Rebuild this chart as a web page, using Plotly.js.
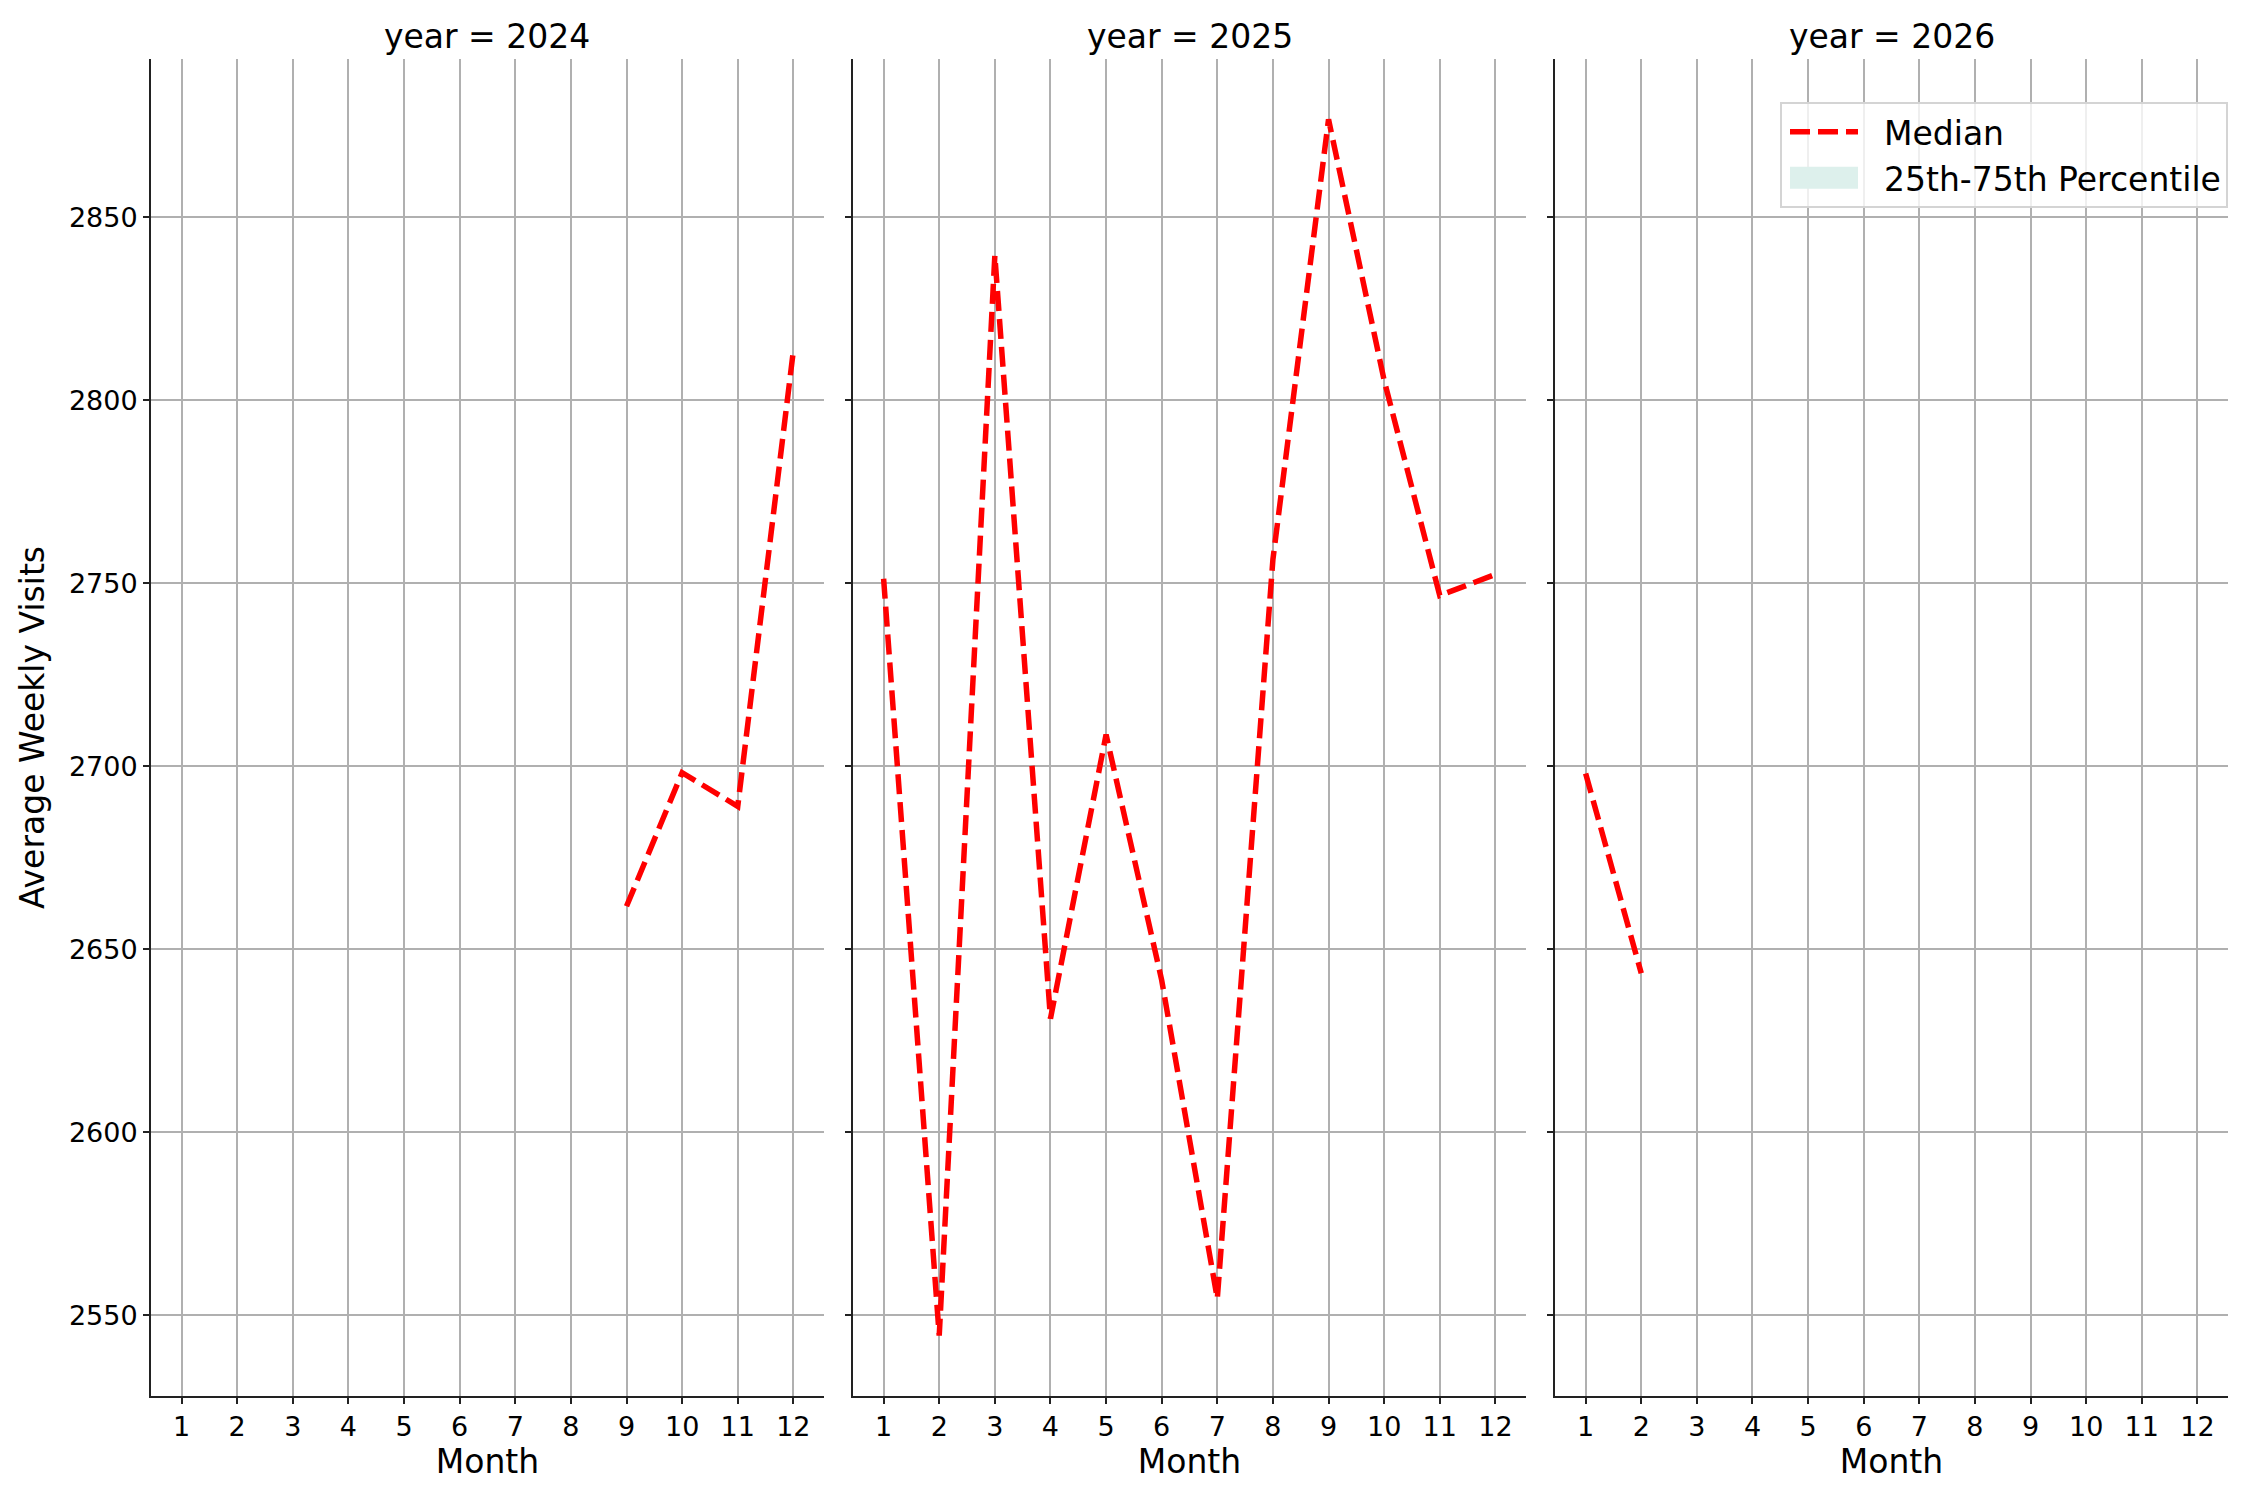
<!DOCTYPE html>
<html>
<head>
<meta charset="utf-8">
<script src="https://cdn.plot.ly/plotly-3.0.1.min.js"></script>
<style>
  html, body { margin: 0; padding: 0; background: #fff; }
  #chart { width: 2250px; height: 1500px; }
</style>
</head>
<body>
<div id="chart"></div>
<script>
// values, one panel per year
const years = [2024, 2025, 2026];
const monthTicks = [1, 2, 3, 4, 5, 6, 7, 8, 9, 10, 11, 12];

const months2024 = [9, 10, 11, 12];
const median2024 = [2661.7, 2698.2, 2689.0, 2813.5];
const p25_2024 = [2661.7, 2698.2, 2689.0, 2813.5];
const p75_2024 = [2661.7, 2698.2, 2689.0, 2813.5];

const months2025 = [1, 2, 3, 4, 5, 6, 7, 8, 9, 10, 11, 12];
const median2025 = [2751.2, 2544.4, 2839.5, 2631.0, 2708.6, 2641.5, 2554.5, 2756.5, 2876.7, 2805.4, 2746.6, 2752.4];
const p25_2025 = [2751.2, 2544.4, 2839.5, 2631.0, 2708.6, 2641.5, 2554.5, 2756.5, 2876.7, 2805.4, 2746.6, 2752.4];
const p75_2025 = [2751.2, 2544.4, 2839.5, 2631.0, 2708.6, 2641.5, 2554.5, 2756.5, 2876.7, 2805.4, 2746.6, 2752.4];

const months2026 = [1, 2];
const median2026 = [2698.0, 2643.4];
const p25_2026 = [2698.0, 2643.4];
const p75_2026 = [2698.0, 2643.4];

const yTicks = [2550, 2600, 2650, 2700, 2750, 2800, 2850];

const FONT = "DejaVu Sans, sans-serif";
const panels = [
  { x: months2024, med: median2024, lo: p25_2024, hi: p75_2024 },
  { x: months2025, med: median2025, lo: p25_2025, hi: p75_2025 },
  { x: months2026, med: median2026, lo: p25_2026, hi: p75_2026 }
];

const data = [];
panels.forEach((p, i) => {
  const xa = i === 0 ? "x" : "x" + (i + 1);
  const ya = i === 0 ? "y" : "y" + (i + 1);
  data.push({
    x: p.x, y: p.lo, xaxis: xa, yaxis: ya,
    mode: "lines", line: { width: 0 }, showlegend: false, hoverinfo: "skip"
  });
  data.push({
    x: p.x, y: p.hi, xaxis: xa, yaxis: ya,
    mode: "lines", line: { width: 0 }, fill: "tonexty",
    fillcolor: "rgba(221,240,236,1)",
    name: "25th-75th Percentile", legendrank: 2,
    showlegend: i === 0
  });
  data.push({
    x: p.x, y: p.med, xaxis: xa, yaxis: ya,
    mode: "lines", line: { color: "#ff0000", width: 5.5, dash: "20px,8px" },
    name: "Median", legendrank: 1,
    showlegend: i === 0
  });
});

function xAxis(domain, anchor) {
  return {
    domain: domain, anchor: anchor,
    range: [0.45, 12.55],
    tickvals: monthTicks,
    ticks: "outside", ticklen: 6, tickwidth: 2, tickcolor: "#222",
    showline: true, linecolor: "#222", linewidth: 2,
    showgrid: true, gridcolor: "#b0b0b0", gridwidth: 2,
    zeroline: false,
    tickfont: { family: FONT, size: 27, color: "#000" },
    title: { text: "Month", font: { family: FONT, size: 33, color: "#000" }, standoff: 6 }
  };
}

function yAxis(anchor, labels) {
  const ax = {
    anchor: anchor,
    range: [2527.9, 2893.2],
    tickvals: yTicks,
    ticks: "outside", ticklen: 6, tickwidth: 2, tickcolor: "#222",
    showline: true, linecolor: "#222", linewidth: 2,
    showgrid: true, gridcolor: "#b0b0b0", gridwidth: 2,
    zeroline: false,
    showticklabels: labels,
    tickfont: { family: FONT, size: 27, color: "#000" }
  };
  if (labels) {
    ax.title = { text: "Average Weekly Visits", font: { family: FONT, size: 33, color: "#000" }, standoff: 14 };
  } else {
    ax.matches = "y";
  }
  return ax;
}

const domains = [[0, 0.324], [0.338, 0.662], [0.676, 1]];

const annotations = years.map((yr, i) => ({
  text: "year = " + yr,
  xref: "paper", yref: "paper",
  x: (domains[i][0] + domains[i][1]) / 2, y: 1,
  xanchor: "center", yanchor: "middle", yshift: 23,
  showarrow: false,
  font: { family: FONT, size: 33, color: "#000" }
}));

const layout = {
  width: 2250, height: 1500,
  margin: { l: 151, r: 22, t: 59, b: 104 },
  paper_bgcolor: "#fff", plot_bgcolor: "#fff",
  font: { family: FONT, color: "#000" },
  xaxis: xAxis(domains[0], "y"),
  xaxis2: xAxis(domains[1], "y2"),
  xaxis3: xAxis(domains[2], "y3"),
  yaxis: yAxis("x", true),
  yaxis2: yAxis("x2", false),
  yaxis3: yAxis("x3", false),
  annotations: annotations,
  showlegend: true,
  legend: {
    x: 1, y: 0.968, xanchor: "right", yanchor: "top",
    bgcolor: "rgba(255,255,255,0.8)", bordercolor: "#d4d4d4", borderwidth: 2,
    font: { family: FONT, size: 33, color: "#000" },
    traceorder: "normal",
    itemwidth: 92
  }
};

Plotly.newPlot("chart", data, layout, { staticPlot: true }).then(gd => {
  // widen the legend keys to the matplotlib-style long handles
  gd.querySelectorAll(".legend .traces").forEach(tr => {
    tr.querySelectorAll(".legendlines path").forEach(p => p.setAttribute("d", "M8,0h68"));
    tr.querySelectorAll(".legendfill path").forEach(p => p.setAttribute("d", "M8,-11h68v22h-68z"));
  });
});
</script>
</body>
</html>
